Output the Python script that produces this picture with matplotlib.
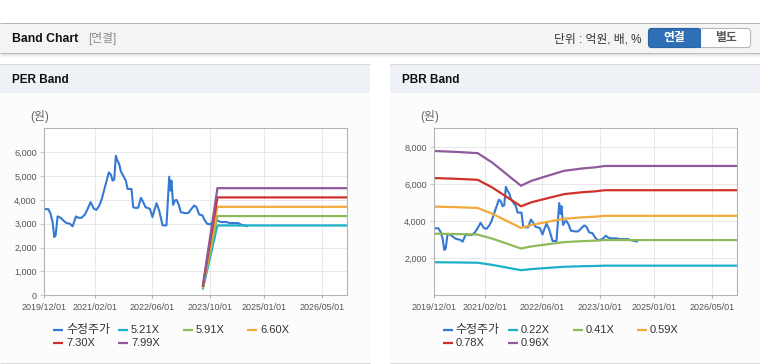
import matplotlib
matplotlib.use("Agg")
import matplotlib.pyplot as plt
from matplotlib.patches import Rectangle, FancyBboxPatch
from matplotlib.lines import Line2D
import pandas as pd

plt.rcParams['font.family'] = ['Liberation Sans', 'Noto Sans CJK KR']

W, H = 760, 364

# 수정주가 (adjusted price)
price_dates = ['2019-12-01', '2020-01-04', '2020-01-23', '2020-02-09', '2020-02-23', '2020-03-06',
               '2020-03-22', '2020-04-17', '2020-05-15', '2020-06-06', '2020-07-04', '2020-07-27',
               '2020-08-24', '2020-09-13', '2020-10-11', '2020-11-08', '2020-11-27', '2020-12-26',
               '2021-01-23', '2021-02-14', '2021-03-09', '2021-03-28', '2021-04-25', '2021-05-29',
               '2021-06-15', '2021-06-29', '2021-07-13', '2021-07-27', '2021-08-07', '2021-08-24',
               '2021-09-07', '2021-09-27', '2021-10-19', '2021-11-03', '2021-12-06', '2021-12-20',
               '2022-01-03', '2022-01-31', '2022-02-23', '2022-03-15', '2022-04-03', '2022-05-10',
               '2022-06-01', '2022-06-12', '2022-07-05', '2022-07-27', '2022-08-25', '2022-09-27',
               '2022-10-20', '2022-10-31', '2022-11-08', '2022-11-22', '2022-12-07', '2022-12-21',
               '2023-01-09', '2023-01-26', '2023-03-01', '2023-03-29', '2023-04-26', '2023-05-19',
               '2023-06-07', '2023-06-30', '2023-07-28', '2023-08-16', '2023-09-05', '2023-09-27',
               '2023-10-26', '2023-11-17', '2023-12-07', '2024-01-04', '2024-02-15', '2024-03-14',
               '2024-05-23', '2024-06-21', '2024-08-05']
price_vals = [3611, 3611, 3417, 3069, 2444, 2514,
              3306, 3250, 3111, 3028, 3000, 2889,
              3306, 3250, 3250, 3389, 3583, 3903,
              3625, 3583, 3764, 4000, 4528, 5153,
              5056, 4806, 4847, 5847, 5667, 5500,
              5194, 5014, 4806, 4458, 4458, 3694,
              3667, 3667, 4083, 3903, 3694, 3625,
              3278, 3486, 3861, 3556, 2931, 2931,
              4972, 4389, 4806, 3792, 3972, 4000,
              3792, 3486, 3444, 3444, 3625, 3764,
              3694, 3389, 3347, 3139, 3000, 2972,
              3069, 3208, 3111, 3069, 3069, 3028,
              3028, 2958, 2903]

# PER band
per_dates = ['2023-08-01', '2023-12-01', '2026-12-01']
per_521 = [287, 2928, 2928]
per_591 = [325, 3321, 3321]
per_660 = [363, 3709, 3709]
per_730 = [402, 4103, 4103]
per_799 = [439, 4490, 4490]
per_labels = ['5.21X', '5.91X', '6.60X', '7.30X', '7.99X']

# PBR band
pbr_dates = ['2019-12-01', '2020-06-01', '2020-12-01', '2021-04-01', '2021-07-15', '2021-12-01',
             '2022-03-01', '2022-07-15', '2022-12-01', '2023-05-01', '2023-08-15', '2023-11-10',
             '2026-12-01']
pbr_022 = [1782, 1771, 1756, 1641, 1518, 1353, 1415, 1476, 1538, 1566, 1580, 1597, 1597]
pbr_041 = [3321, 3301, 3272, 3059, 2829, 2522, 2636, 2751, 2866, 2919, 2944, 2977, 2977]
pbr_059 = [4779, 4750, 4708, 4401, 4071, 3629, 3794, 3959, 4124, 4201, 4236, 4283, 4283]
pbr_078 = [6318, 6279, 6224, 5819, 5382, 4797, 5015, 5234, 5452, 5554, 5600, 5663, 5663]
pbr_096 = [7776, 7728, 7661, 7162, 6624, 5904, 6173, 6442, 6710, 6835, 6893, 6970, 6970]
pbr_labels = ['0.22X', '0.41X', '0.59X', '0.78X', '0.96X']

x_ticks = ['2019-12-01', '2021-02-01', '2022-06-01', '2023-10-01', '2025-01-01', '2026-05-01']
x_ticklabels = ['2019/12/01', '2021/02/01', '2022/06/01', '2023/10/01', '2025/01/01', '2026/05/01']
per_yticks = [0, 1000, 2000, 3000, 4000, 5000, 6000]
pbr_yticks = [2000, 4000, 6000, 8000]

price_color = '#3579d3'
band_colors = ['#1cb0c8', '#8fba5a', '#f1aa3a', '#d0302c', '#8e5a9c']

fig = plt.figure(figsize=(W / 100, H / 100), dpi=100)
fig.patch.set_facecolor('white')
T = fig.dpi_scale_trans


# helpers in pixel coords, origin top-left
def rect(x0, y0, x1, y1, fc, ec='none', lw=0, z=-2):
    fig.add_artist(Rectangle((x0 / 100, (H - y1) / 100), (x1 - x0) / 100, (y1 - y0) / 100,
                             transform=T, fc=fc, ec=ec, lw=lw, zorder=z))


def hline(x0, x1, y, color, lw=0.72, alpha=1, z=-1):
    fig.add_artist(Line2D([x0 / 100, x1 / 100], [(H - y) / 100] * 2, transform=T,
                          color=color, lw=lw, alpha=alpha, solid_capstyle='butt', zorder=z))


def text(x, y, s, **kw):
    fig.text(x / 100, (H - y) / 100, s, transform=T, va='center', **kw)


# top header bar
hline(0, W, 22.5, '#b5b5b5')
rect(0, 23, W, 52.5, '#f4f4f4')
hline(0, W, 53, '#bdbdbd')
for i, a in enumerate([0.25, 0.14, 0.07]):
    hline(0, W, 54 + i, '#888888', alpha=a)
text(12, 38.5, 'Band Chart', fontsize=8.8, fontweight='bold', color='#111111')
text(88, 38.5, '[연결]', fontsize=8.5, color='#8a8a8a')
text(641, 39, '단위 : 억원, 배, %', fontsize=8.5, color='#333333', ha='right')

# toggle buttons
fig.add_artist(FancyBboxPatch((648.5 / 100, (H - 47.5) / 100), 102 / 100, 19 / 100,
                              boxstyle='round,pad=0,rounding_size=0.03', transform=T,
                              fc='white', ec='#b8b8b8', lw=0.8))
fig.add_artist(FancyBboxPatch((648.5 / 100, (H - 47.5) / 100), 52 / 100, 19 / 100,
                              boxstyle='round,pad=0,rounding_size=0.03', transform=T,
                              fc='#2f6fb6', ec='#2a63a3', lw=0.8))
rect(694, 28.5, 700.5, 47.5, '#2f6fb6', z=1)
text(674.5, 38, '연결', fontsize=8.5, fontweight='bold', color='white', ha='center')
text(725.5, 38, '별도', fontsize=8.5, fontweight='bold', color='#555555', ha='center')

# panel frames
for x0, x1, title in [(0, 370, 'PER Band'), (390, W, 'PBR Band')]:
    hline(x0, x1, 64, '#d6d6d6')
    rect(x0, 64.5, x1, 92.7, '#eef2f7')
    rect(x0, 92.7, x1, 362.3, '#fcfcfc')
    hline(x0, x1, 362.7, '#d9d9d9')
    text(x0 + 12, 80, title, fontsize=8.5, fontweight='bold', color='#111111')
    text(x0 + 30, 117, '(원)', fontsize=8.5, color='#666666')


def setup(ax, ymax, yticks):
    ax.set_facecolor('white')
    ax.set_xlim(pd.Timestamp('2019-12-01'), pd.Timestamp('2026-12-01'))
    ax.set_ylim(0, ymax)
    ax.set_xticks(pd.to_datetime(x_ticks))
    ax.set_xticklabels(x_ticklabels)
    ax.set_yticks(yticks)
    ax.set_yticklabels([f'{v:,}' for v in yticks])
    ax.grid(True, color='#e8e8e8', lw=0.7)
    ax.set_axisbelow(True)
    for s in ax.spines.values():
        s.set_color('#b4b4b4')
        s.set_linewidth(0.8)
    ax.tick_params(axis='x', length=2.5, color='#b4b4b4', labelsize=6.5, labelcolor='#555555', pad=3)
    ax.tick_params(axis='y', length=3, color='#cccccc', labelsize=6.5, labelcolor='#555555', pad=2.5)


def legend(x0, names, colors):
    cols = [0, 65, 130, 194]
    for i, (n, c) in enumerate(zip(names, colors)):
        r, k = divmod(i, 4)
        x = x0 + cols[k]
        y = 330 + r * 13.3
        hline(x, x + 10, y, c, lw=1.6, z=1)
        text(x + 13, y, n, fontsize=8.6 if i == 0 else 8, color='#333333')


# PER axes
ax1 = fig.add_axes([44.3 / W, 1 - 295.3 / H, 303 / W, 167 / H])
setup(ax1, 7000, per_yticks)
pd_price = pd.to_datetime(price_dates)
ax1.plot(pd_price, price_vals, color=price_color, lw=1.5)
per_series = [per_521, per_591, per_660, per_730, per_799]
for vals, c in zip(per_series, band_colors):
    ax1.plot(pd.to_datetime(per_dates), vals, color=c, lw=1.6)
legend(53, ['수정주가'] + per_labels, [price_color] + band_colors)

# PBR axes
ax2 = fig.add_axes([434.3 / W, 1 - 295.3 / H, 303 / W, 167 / H])
setup(ax2, 9000, pbr_yticks)
ax2.plot(pd_price, price_vals, color=price_color, lw=1.5)
pbr_series = [pbr_022, pbr_041, pbr_059, pbr_078, pbr_096]
for vals, c in zip(pbr_series, band_colors):
    ax2.plot(pd.to_datetime(pbr_dates), vals, color=c, lw=1.6)
legend(442.5, ['수정주가'] + pbr_labels, [price_color] + band_colors)

fig.savefig('out.png', dpi=100)
